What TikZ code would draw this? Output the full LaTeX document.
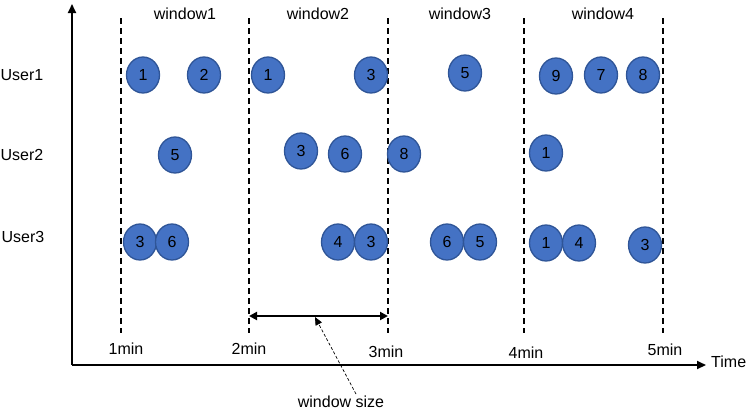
\documentclass[tikz,border=0pt]{standalone}
\usepackage{fontspec}
\setmainfont{Liberation Sans}
\usetikzlibrary{arrows.meta,shapes.geometric}
\definecolor{ballfill}{HTML}{4472C4}
\definecolor{ballline}{HTML}{2F5597}
\tikzset{
  ball/.style={draw=ballline, fill=ballfill, line width=1.3pt, ellipse, minimum width=33pt, minimum height=36pt, inner sep=0pt, font=\fontsize{16}{17}\selectfont},
  lbl/.style={font=\fontsize{16}{17}\selectfont, inner sep=0pt},
  axis/.style={line width=2pt, -{Triangle[length=9pt,width=8pt]}},
  winline/.style={line width=2pt, dash pattern=on 6pt off 4pt}
}
\begin{document}
\begin{tikzpicture}[x=1pt,y=-1pt]
\useasboundingbox (0,0) rectangle (749,410);
% axes
\coordinate (O) at (72,365);
\coordinate (ytop) at (72,4);
\coordinate (xend) at (706,365);
\draw[axis] (O) -- (ytop);
\draw[axis] (O) -- (xend);
\node[lbl, anchor=west] (time) at (711,362) {Time};
% window lines
\foreach \n/\x in {1/121,2/249,3/388,4/524,5/663}{
  \coordinate (t\n) at (\x,18);
  \coordinate (b\n) at (\x,333);
  \draw[winline] (t\n) -- (b\n);
}
% window labels
\node[lbl] (w1) at (185,14) {window1};
\node[lbl] (w2) at (318,14) {window2};
\node[lbl] (w3) at (460,14) {window3};
\node[lbl] (w4) at (603,14) {window4};
% time labels
\node[lbl] (m1) at (126,349) {1min};
\node[lbl] (m2) at (249,349) {2min};
\node[lbl] (m3) at (386,352) {3min};
\node[lbl] (m4) at (526,353) {4min};
\node[lbl] (m5) at (665,350) {5min};
% user labels
\node[lbl] (u1) at (22,75) {User1};
\node[lbl] (u2) at (22,155) {User2};
\node[lbl] (u3) at (23,237) {User3};
% balls row 1
\node[ball] (a1) at (143,75) {1};
\node[ball] (a2) at (204,75) {2};
\node[ball] (a3) at (268,75) {1};
\node[ball] (a4) at (371,75) {3};
\node[ball] (a5) at (465,73) {5};
\node[ball] (a6) at (556,76) {9};
\node[ball] (a7) at (601,75) {7};
\node[ball] (a8) at (643,75) {8};
% row 2
\node[ball] (c1) at (175,155) {5};
\node[ball] (c2) at (301,151) {3};
\node[ball] (c3) at (345,154) {6};
\node[ball] (c4) at (404,154) {8};
\node[ball] (c5) at (546,153) {1};
% row 3
\node[ball] (d1) at (140,242) {3};
\node[ball] (d2) at (172,242) {6};
\node[ball] (d3) at (338,242) {4};
\node[ball] (d4) at (371,242) {3};
\node[ball] (d5) at (447,242) {6};
\node[ball] (d6) at (480,242) {5};
\node[ball] (d7) at (546,243) {1};
\node[ball] (d8) at (579,243) {4};
\node[ball] (d9) at (645,245) {3};
% window size
\coordinate (ws1) at (249,316);
\coordinate (ws2) at (388,316);
\draw[line width=2pt, {Triangle[length=8pt,width=8pt]}-{Triangle[length=8pt,width=8pt]}] (ws1) -- (ws2);
\coordinate (wsp) at (315,317);
\coordinate (wsf) at (356,394);
\node[lbl] (wsl) at (341,402) {window size};
\draw[line width=0.7pt, dash pattern=on 3pt off 2pt, -{Triangle[length=8pt,width=7pt]}] (wsf) -- (wsp);
\end{tikzpicture}
\end{document}
